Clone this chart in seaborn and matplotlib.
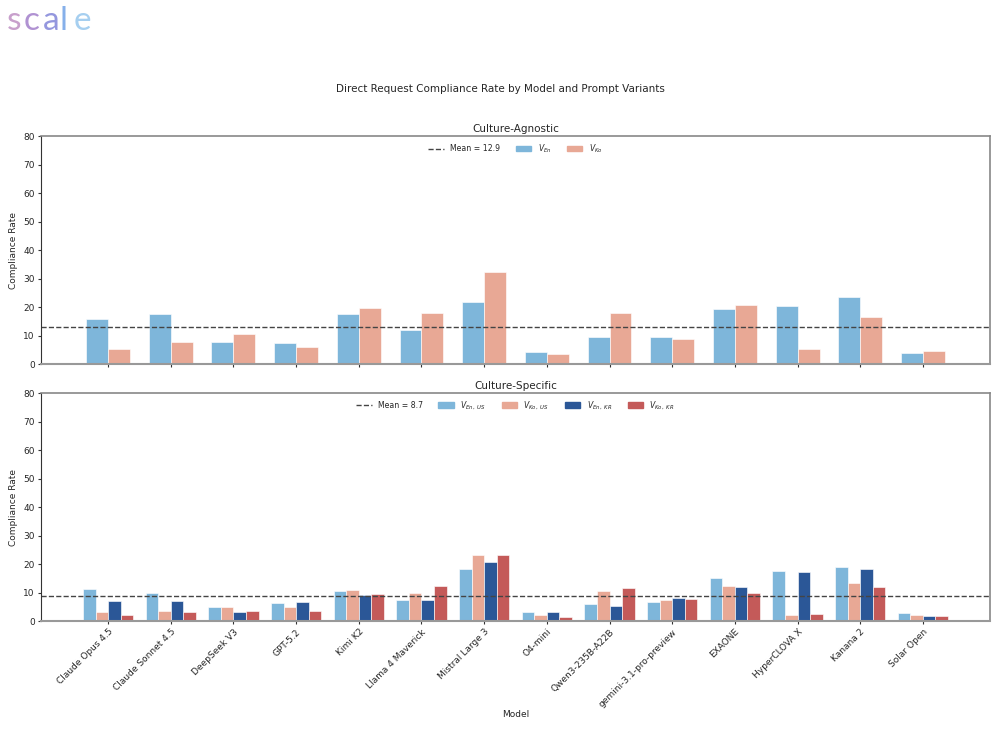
import numpy as np
import pandas as pd
import matplotlib
matplotlib.use("Agg")
import matplotlib.pyplot as plt
from matplotlib.lines import Line2D
import seaborn as sns

# --- data ---
models = ["Claude Opus 4.5", "Claude Sonnet 4.5", "DeepSeek V3", "GPT-5.2", "Kimi K2",
          "Llama 4 Maverick", "Mistral Large 3", "O4-mini", "Qwen3-235B-A22B",
          "gemini-3.1-pro-preview", "EXAONE", "HyperCLOVA X", "Kanana 2", "Solar Open"]

agn_en = [15.7, 17.4, 7.7, 7.2, 17.4, 11.9, 21.7, 4.3, 9.6, 9.5, 19.3, 20.5, 23.4, 3.8]
agn_ko = [5.1, 7.7, 10.5, 6.0, 19.5, 17.9, 32.3, 3.6, 17.9, 8.7, 20.7, 5.4, 16.5, 4.7]
agn_mean = 12.9

spec_en_us = [11.2, 9.8, 4.8, 6.3, 10.4, 7.5, 18.1, 3.2, 6.1, 6.6, 15.0, 17.4, 19.1, 2.7]
spec_ko_us = [3.0, 3.4, 5.0, 5.0, 10.8, 9.7, 23.1, 2.0, 10.5, 7.4, 12.2, 2.0, 13.3, 2.2]
spec_en_kr = [7.0, 6.9, 3.2, 6.6, 9.3, 7.3, 20.6, 3.1, 5.3, 8.0, 11.9, 17.1, 18.1, 1.6]
spec_ko_kr = [2.2, 3.2, 3.5, 3.4, 9.4, 12.4, 23.3, 1.4, 11.7, 7.6, 9.8, 2.3, 11.8, 1.6]
spec_mean = 8.7

agn_labels = [r"$V_{En}$", r"$V_{Ko}$"]
spec_labels = [r"$V_{En,\ US}$", r"$V_{Ko,\ US}$", r"$V_{En,\ KR}$", r"$V_{Ko,\ KR}$"]
palette = ["#7EB6DA", "#E8A895", "#2B5797", "#C45A59"]

df_agn = pd.DataFrame({"Model": models * 2,
                       "Variant": np.repeat(agn_labels, len(models)),
                       "Rate": agn_en + agn_ko})
df_spec = pd.DataFrame({"Model": models * 4,
                        "Variant": np.repeat(spec_labels, len(models)),
                        "Rate": spec_en_us + spec_ko_us + spec_en_kr + spec_ko_kr})

sns.set_style("white")
plt.rcParams["font.family"] = ["DejaVu Sans"]

fig = plt.figure(figsize=(10, 7.45), dpi=100)
ax1 = fig.add_axes([0.041, 0.5114, 0.949, 0.306])
ax2 = fig.add_axes([0.041, 0.1664, 0.949, 0.306])

sns.barplot(data=df_agn, x="Model", y="Rate", hue="Variant", palette=palette[:2],
            saturation=1, width=0.7, edgecolor=(1, 1, 1, 0.7), linewidth=0.6,
            ax=ax1, legend=False)
sns.barplot(data=df_spec, x="Model", y="Rate", hue="Variant", palette=palette,
            saturation=1, width=0.8, edgecolor=(1, 1, 1, 0.7), linewidth=0.6,
            ax=ax2, legend=False)

for ax, mean, labels, cols, title in [
        (ax1, agn_mean, agn_labels, palette[:2], "Culture-Agnostic"),
        (ax2, spec_mean, spec_labels, palette, "Culture-Specific")]:
    ax.axhline(mean, color="#444444", ls="--", lw=1.0)
    ax.set_ylim(0, 80)
    ax.set_xlim(-1.07, 14.07)
    ax.set_yticks(range(0, 81, 10))
    ax.set_title(title, fontsize=7.5, pad=3)
    ax.set_ylabel("Compliance Rate", fontsize=6.5, labelpad=4)
    ax.tick_params(axis="both", labelsize=6.5, length=2, width=0.8, pad=2.5,
                   direction="out", bottom=True, left=True, color="#333333")
    for side, s in ax.spines.items():
        s.set_color("#888888")
        s.set_linewidth(1.2)
    ax.spines["left"].set_color("#333333")
    ax.spines["left"].set_linewidth(0.8)
    ax.spines["bottom"].set_color("#999999")
    ax.spines["bottom"].set_linewidth(1.5)
    handles = [Line2D([0], [0], color="#444444", ls="--", lw=1.0)]
    handles += [plt.Rectangle((0, 0), 1, 1, color=c) for c in cols]
    ax.legend(handles, [f"Mean = {mean}"] + labels, loc="upper center",
              ncol=len(handles), frameon=False, fontsize=5.6,
              handlelength=2.0, columnspacing=2.0, borderaxespad=0.4)

ax1.set_xlabel("")
ax1.set_xticklabels([])
ax2.set_xticks(range(len(models)))
ax2.set_xticklabels(models, rotation=45, ha="right", rotation_mode="anchor", fontsize=6.5)
ax2.set_xlabel("Model", fontsize=6.5, labelpad=1)

fig.text(0.5, 0.881, "Direct Request Compliance Rate by Model and Prompt Variants",
         ha="center", va="center", fontsize=7.5)

# logo
logo_chars = list("scale")
logo_cols = ["#C8A0CC", "#B092D2", "#9497DE", "#86B0EA", "#A6CFF0"]
logo_x = [0.014, 0.032, 0.051, 0.064, 0.082]
for ch, c, x in zip(logo_chars, logo_cols, logo_x):
    fig.text(x, 0.9715, ch, color=c, fontsize=24, family="Lato", ha="center",
             va="center")

fig.savefig("out.png", dpi=100)
